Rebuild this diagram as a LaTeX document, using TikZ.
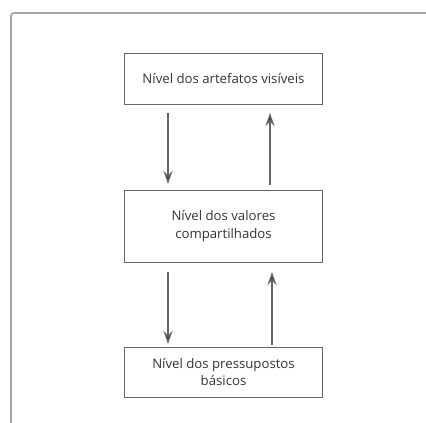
\documentclass[tikz,border=0pt]{standalone}
\usepackage{fontspec}
\setmainfont{Open Sans}
\usetikzlibrary{arrows.meta}
\begin{document}
\begin{tikzpicture}[x=1pt,y=-1pt,
  lvl/.style={draw=black!60,line width=1pt,minimum width=198pt,align=center,font=\fontsize{13.2}{17.5}\selectfont,text=black!80,inner sep=0pt},
  conn/.style={draw=black!60,line width=1.3pt,-{Stealth[length=13pt,width=9pt,fill=black!80]}}]
\useasboundingbox (0,0) rectangle (426,423);
\draw[black!35,line width=1.8pt,rounded corners=3pt] (11,430) -- (11,13) -- (430,13);
\node[lvl,minimum height=51pt] (a) at (223.5,78.5) {Nível dos artefatos visíveis};
\node[lvl,minimum height=72pt] (b) at (223.5,226) {Nível dos valores\\compartilhados};
\node[lvl,minimum height=50pt] (c) at (223.5,372) {Nível dos pressupostos\\básicos};
\coordinate (a1) at (168,113); \coordinate (b1) at (168,184);
\coordinate (b2) at (270,185); \coordinate (a2) at (270,113);
\coordinate (b3) at (168,272); \coordinate (c3) at (168,344);
\coordinate (c4) at (272,345); \coordinate (b4) at (272,272);
\draw[conn] (a1) -- (b1);
\draw[conn] (b2) -- (a2);
\draw[conn] (b3) -- (c3);
\draw[conn] (c4) -- (b4);
\end{tikzpicture}
\end{document}
